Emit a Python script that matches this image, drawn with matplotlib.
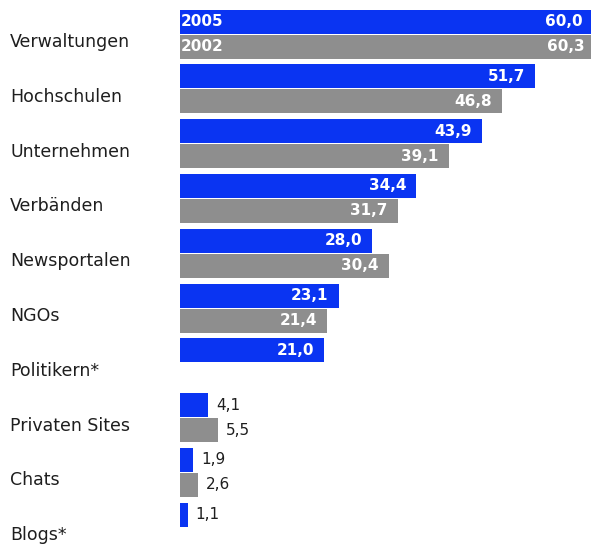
import matplotlib
matplotlib.use("Agg")
import matplotlib.pyplot as plt
import numpy as np

categories = ["Verwaltungen", "Hochschulen", "Unternehmen", "Verbänden", "Newsportalen",
              "NGOs", "Politikern*", "Privaten Sites", "Chats", "Blogs*"]
values_2005 = [60.0, 51.7, 43.9, 34.4, 28.0, 23.1, 21.0, 4.1, 1.9, 1.1]
values_2002 = [60.3, 46.8, 39.1, 31.7, 30.4, 21.4, None, 5.5, 2.6, None]
series_labels = ["2005", "2002"]

BLUE = "#0a34f2"
GRAY = "#8e8e8e"
TEXT = "#1e1e1e"

W, H = 591, 548
fig = plt.figure(figsize=(W / 100, H / 100), dpi=100)
ax_left = 180 / W
ax = fig.add_axes([ax_left, 0, 1 - ax_left, 1])

pitch_px = 54.8
top_px = 34.0
ylim_top = -top_px / pitch_px
ylim_bot = ylim_top + H / pitch_px
bar_h = 24 / pitch_px
off = 12.5 / pitch_px

xmax = (W - 180) / 6.87
ax.set_xlim(0, xmax)
ax.set_ylim(ylim_bot, ylim_top)
ax.axis("off")

px_per_unit = (W - 180) / xmax
font = "DejaVu Sans"
fs = 11

for i, cat in enumerate(categories):
    for v, color, dy in ((values_2005[i], BLUE, -off), (values_2002[i], GRAY, off)):
        if v is None:
            continue
        y = i + dy
        ax.barh(y, v, height=bar_h, color=color, edgecolor="none")
        txt = f"{v:.1f}".replace(".", ",")
        if v > 10:
            ax.text(v - 10 / px_per_unit, y, txt, ha="right", va="center",
                    color="white", fontsize=fs, fontweight="bold", family=font)
        else:
            ax.text(v + 8 / px_per_unit, y, txt, ha="left", va="center",
                    color=TEXT, fontsize=fs, family=font)
    # category label
    fig.text(10 / W, 1 - (top_px + i * pitch_px + 8) / H, cat, ha="left", va="center",
             color=TEXT, fontsize=12.5, family=font)

# series labels inside first group
ax.text(1 / px_per_unit, 0 - off, series_labels[0], ha="left", va="center",
        color="white", fontsize=fs, fontweight="bold", family=font)
ax.text(1 / px_per_unit, 0 + off, series_labels[1], ha="left", va="center",
        color="white", fontsize=fs, fontweight="bold", family=font)

fig.savefig("out.png", dpi=100, facecolor="white")
